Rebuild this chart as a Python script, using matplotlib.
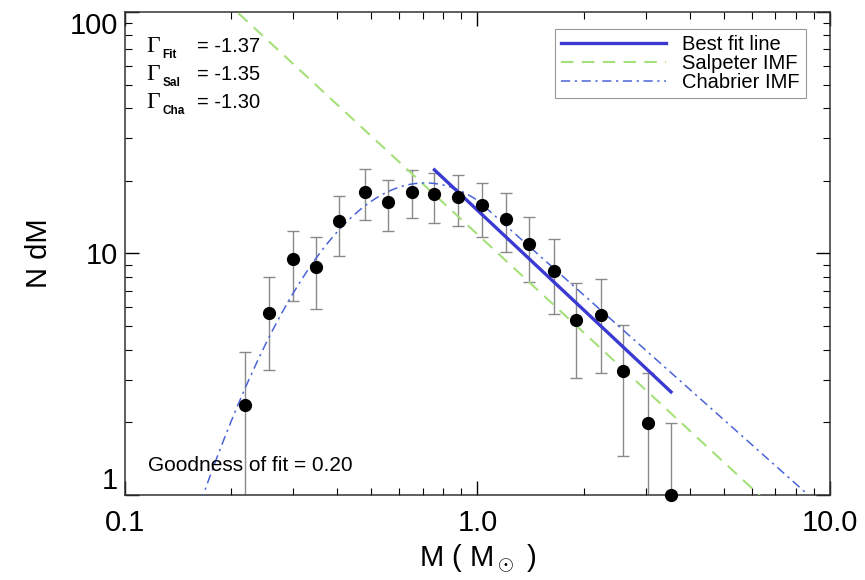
import numpy as np
import matplotlib
matplotlib.use("Agg")
import matplotlib.pyplot as plt

plt.rcParams['font.family'] = ['Liberation Sans', 'DejaVu Sans']
plt.rcParams['mathtext.fontset'] = 'custom'
plt.rcParams['mathtext.rm'] = 'Liberation Sans'

# binned mass function
mass = [0.219, 0.256, 0.299, 0.348, 0.406, 0.479, 0.556, 0.650, 0.755, 0.878,
        1.033, 1.208, 1.403, 1.652, 1.906, 2.245, 2.59, 3.05, 3.54]
ndm = [2.36, 5.67, 9.49, 8.79, 13.6, 18.0, 16.3, 18.0, 17.6, 17.1,
       15.9, 13.9, 10.9, 8.46, 5.30, 5.56, 3.26, 1.99, 1.0]
err_hi = [3.91, 8.0, 12.4, 11.7, 17.3, 22.4, 20.2, 22.2, 21.5, 21.1,
          19.6, 17.8, 14.2, 11.5, 7.55, 7.84, 5.06, 3.20, 1.99]
err_lo = [0.8, 3.29, 6.36, 5.89, 9.77, 13.8, 12.4, 14.0, 13.4, 13.0,
          11.7, 10.1, 7.62, 5.62, 3.05, 3.20, 1.45, 0.8, 0.01]

# slopes
gamma_fit = -1.37
gamma_sal = -1.35
gamma_cha = -1.30
goodness = 0.20

# line normalisations
fit_norm = 15.1
fit_range = (0.755, 3.54)
sal_norm = 12.0
cha_peak = 19.6
cha_mc = 0.71
cha_sigma = 0.258

ndm = np.array(ndm)
yerr = [ndm - np.array(err_lo), np.array(err_hi) - ndm]

fig = plt.figure(figsize=(8.65, 5.8), dpi=100)
ax = fig.add_axes([0.1445, 0.1466, 0.815, 0.8327])

m = np.logspace(-1, 1, 400)
lm = np.log10(m)
cha = cha_peak * np.exp(-(lm - np.log10(cha_mc)) ** 2 / (2 * cha_sigma ** 2))
c1 = cha_peak * np.exp(-(np.log10(cha_mc)) ** 2 / (2 * cha_sigma ** 2))
cha = np.where(m < 1, cha, c1 * m ** gamma_cha)

mf = np.logspace(np.log10(fit_range[0]), np.log10(fit_range[1]), 50)

ax.errorbar(mass, ndm, yerr=yerr, fmt='none', ecolor='#8a8a8a', elinewidth=1.0,
            capsize=4, capthick=1.0, zorder=2)
ax.plot(mf, fit_norm * mf ** gamma_fit, color='#3a3ad2', lw=2.4, label='Best fit line', zorder=4)
ax.plot(m, sal_norm * m ** gamma_sal, color='#a6e07a', lw=1.5, ls=(0, (6, 4)), label='Salpeter IMF', zorder=3)
ax.plot(m, cha, color='#4a64d8', lw=1.1, ls=(0, (6, 3, 1.5, 3)), label='Chabrier IMF', zorder=3)
ax.plot(mass, ndm, 'o', color='black', ms=8.5, zorder=5, clip_on=False)

ax.set_xscale('log')
ax.set_yscale('log')
ax.set_xlim(0.1, 10)
ax.set_ylim(1, 100)
ax.set_xticks([0.1, 1.0, 10.0])
ax.set_xticklabels(['0.1', '1.0', '10.0'])
ax.set_yticks([1, 10, 100])
ax.set_yticklabels(['1', '10', '100'])
ax.tick_params(which='both', direction='in', top=True, right=True, labelsize=21)
ax.tick_params(which='major', length=10, width=1.0)
ax.tick_params(which='minor', length=5, width=0.8)
ax.tick_params(axis='x', which='major', pad=10)
ax.tick_params(axis='y', which='major', pad=5)
ylabs = ax.get_yticklabels()
ylabs[0].set_va('bottom')
ylabs[2].set_va('top')
for s in ax.spines.values():
    s.set_linewidth(1.1)
    s.set_color('#333333')

ax.set_xlabel(r'M ( M$_\odot$ )', fontsize=21, labelpad=4)
ax.set_ylabel('N dM', fontsize=21, labelpad=12)

rows = [('Fit', gamma_fit), ('Sal', gamma_sal), ('Cha', gamma_cha)]
ys = [0.917, 0.859, 0.801]
for (sub, val), yy in zip(rows, ys):
    ax.text(0.031, yy, '\u0393', transform=ax.transAxes, fontsize=17,
            family='Liberation Serif', va='baseline')
    ax.text(0.053, yy - 0.012, sub, transform=ax.transAxes, fontsize=8.5,
            weight='bold', va='baseline')
    ax.text(0.102, yy, '= %.2f' % val, transform=ax.transAxes, fontsize=14.5, va='baseline')

ax.text(0.033, 0.06, 'Goodness of fit = %.2f' % goodness, transform=ax.transAxes,
        fontsize=15, va='center')

leg = ax.legend(loc='upper right', bbox_to_anchor=(0.966, 0.965), fontsize=14.5,
                handlelength=5.2, labelspacing=0.0, borderpad=0.3, handletextpad=0.8,
                borderaxespad=0, fancybox=False, framealpha=1, edgecolor='#999999')
leg.get_frame().set_linewidth(0.8)

fig.savefig('out.png', dpi=100)
